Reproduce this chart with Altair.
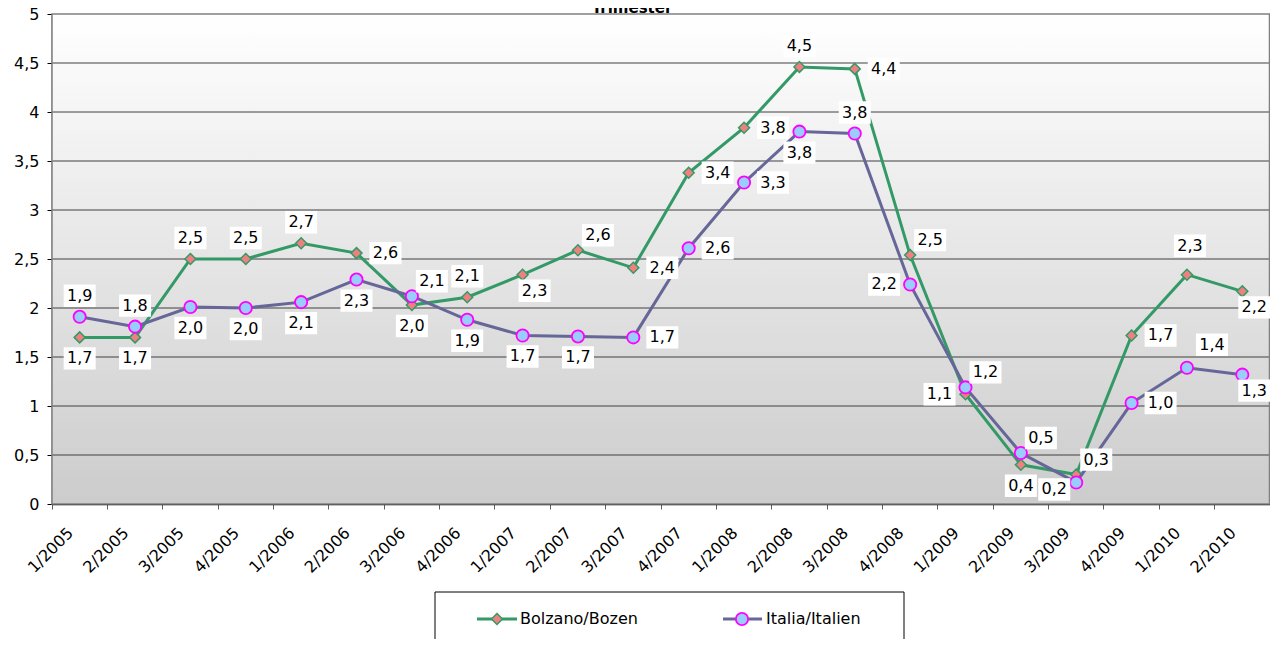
import altair as alt
import pandas as pd

quarters = ["1/2005", "2/2005", "3/2005", "4/2005", "1/2006", "2/2006", "3/2006", "4/2006",
            "1/2007", "2/2007", "3/2007", "4/2007", "1/2008", "2/2008", "3/2008", "4/2008",
            "1/2009", "2/2009", "3/2009", "4/2009", "1/2010", "2/2010"]
bolzano = [1.70, 1.70, 2.50, 2.50, 2.66, 2.56, 2.03, 2.11, 2.34, 2.59, 2.41, 3.38,
           3.84, 4.46, 4.44, 2.54, 1.12, 0.40, 0.30, 1.72, 2.34, 2.17]
italia = [1.91, 1.81, 2.01, 2.00, 2.06, 2.29, 2.12, 1.88, 1.72, 1.71, 1.70, 2.61,
          3.28, 3.80, 3.78, 2.24, 1.19, 0.52, 0.22, 1.03, 1.39, 1.32]
series_names = ["Bolzano/Bozen", "Italia/Italien"]
y_ticks = [0, 0.5, 1, 1.5, 2, 2.5, 3, 3.5, 4, 4.5, 5]
title_text = "Trimester"

# label placement codes (style)
bolzano_label_pos = ["b", "b", "a", "a", "a", "r", "b", "a", "br", "ar", "r", "r",
                     "r", "a", "r", "ar", "l", "b", "ar", "r", "A", "br"]
italia_label_pos = ["a", "a", "b", "b", "b", "b", "ar", "b", "b", "b", "r", "r",
                    "r", "b", "a", "l", "ar", "ar", "bl", "r", "aR", "br"]
offsets = {"a": (0, -21), "A": (3, -29), "b": (0, 21), "r": (29, 0), "l": (-26, 0),
           "ar": (20, -15), "aR": (25, -23), "br": (12, 16), "bl": (-22, 7)}

W, H = 1218, 490
FONT = "DejaVu Sans"
FS = 16
C_B_LINE, C_B_FILL = "#339966", "#f08080"
C_I_LINE, C_I_FILL, C_I_STROKE = "#666699", "#99ccff", "#ff00ff"

df = pd.DataFrame({
    "quarter": quarters * 2,
    "value": bolzano + italia,
    "series": [series_names[0]] * len(quarters) + [series_names[1]] * len(quarters),
    "pos": bolzano_label_pos + italia_label_pos,
})

x_scale = alt.Scale(type="band", domain=quarters, paddingInner=0, paddingOuter=0)
y_scale = alt.Scale(domain=[0, 5], nice=False, zero=True)

x_axis = alt.Axis(title=None, bandPosition=0, labelOffset=-9, labelAngle=-45,
                  labelAlign="right", labelBaseline="middle", labelPadding=21,
                  labelFontSize=FS, labelFont=FONT, labelColor="#000000",
                  tickSize=5, tickColor="#606060", domainColor="#000000",
                  domainWidth=1.5, grid=False, labelOverlap=False)
y_axis = alt.Axis(title=None, values=y_ticks,
                  labelExpr="replace(format(datum.value, '~g'), '.', ',')",
                  labelFontSize=FS, labelFont=FONT, labelColor="#000000", labelPadding=8,
                  tickSize=5, tickColor="#000000", domainColor="#000000",
                  domainWidth=1.5, grid=False)

one = alt.Data(values=[{}])

bg = alt.Chart(one).mark_rect(
    color=alt.Gradient(gradient="linear", x1=0, y1=0, x2=0, y2=1,
                       stops=[alt.GradientStop(color="#ffffff", offset=0),
                              alt.GradientStop(color="#cccccc", offset=1)])
).encode(x=alt.value(0), x2=alt.value(W), y=alt.value(0), y2=alt.value(H))

grid = alt.Chart(pd.DataFrame({"t": y_ticks[1:-1]})).mark_rule(
    color="#404040", strokeWidth=1
).encode(y=alt.Y("t:Q", scale=y_scale, axis=y_axis))

border = alt.Chart(one).mark_rect(
    fill=None, stroke="#808080", strokeWidth=1.5
).encode(x=alt.value(0), x2=alt.value(W - 0.5), y=alt.value(0), y2=alt.value(H))

base = alt.Chart(df)
bz = base.transform_filter(alt.datum.series == series_names[0])
it = base.transform_filter(alt.datum.series == series_names[1])

enc = dict(x=alt.X("quarter:O", scale=x_scale, axis=x_axis, sort=quarters),
           y=alt.Y("value:Q", scale=y_scale, axis=y_axis))

b_line = bz.mark_line(color=C_B_LINE, strokeWidth=3).encode(**enc)
b_pts = bz.mark_point(shape="diamond", filled=True, fill=C_B_FILL, stroke=C_B_LINE,
                      strokeWidth=1.5, size=120, opacity=1).encode(**enc)
i_line = it.mark_line(color=C_I_LINE, strokeWidth=3).encode(**enc)
i_pts = it.mark_point(shape="circle", filled=True, fill=C_I_FILL, stroke=C_I_STROKE,
                      strokeWidth=1.8, size=150, opacity=1).encode(**enc)

labels = []
lab = base.transform_calculate(lbl="replace(format(datum.value, '.1f'), '.', ',')")
for code, (dx, dy) in offsets.items():
    sub = lab.transform_filter(alt.datum.pos == code)
    labels.append(sub.mark_point(shape="M-1,-0.7L1,-0.7L1,0.7L-1,0.7Z", size=1024,
                                 filled=True, fill="#ffffff", stroke=None, opacity=1,
                                 xOffset=dx, yOffset=dy).encode(**enc))
    labels.append(sub.mark_text(font=FONT, fontSize=FS, color="#000000",
                                align="center", baseline="middle", dx=dx, dy=dy)
                  .encode(text="lbl:N", **enc))

title = alt.Chart(alt.Data(values=[{"t": title_text}])).mark_text(
    font=FONT, fontSize=15, fontWeight="bold", color="#000000",
    align="center", baseline="alphabetic"
).encode(text="t:N", x=alt.value(580), y=alt.value(-1))

LY = 605
leg_box = alt.Chart(one).mark_rect(fill="#ffffff", stroke="#000000", strokeWidth=1).encode(
    x=alt.value(383), x2=alt.value(852), y=alt.value(578), y2=alt.value(700))
leg_b_line = alt.Chart(one).mark_rule(color=C_B_LINE, strokeWidth=3).encode(
    x=alt.value(425), x2=alt.value(465), y=alt.value(LY))
leg_b_pt = alt.Chart(one).mark_point(shape="diamond", filled=True, fill=C_B_FILL,
                                     stroke=C_B_LINE, strokeWidth=1.5, size=120, opacity=1).encode(
    x=alt.value(445), y=alt.value(LY))
leg_b_txt = alt.Chart(alt.Data(values=[{"s": series_names[0]}])).mark_text(
    font=FONT, fontSize=FS, align="left", baseline="middle", color="#000000").encode(
    text="s:N", x=alt.value(468), y=alt.value(LY))
leg_i_line = alt.Chart(one).mark_rule(color=C_I_LINE, strokeWidth=3).encode(
    x=alt.value(671), x2=alt.value(710), y=alt.value(LY))
leg_i_pt = alt.Chart(one).mark_point(shape="circle", filled=True, fill=C_I_FILL,
                                     stroke=C_I_STROKE, strokeWidth=1.8, size=150, opacity=1).encode(
    x=alt.value(690), y=alt.value(LY))
leg_i_txt = alt.Chart(alt.Data(values=[{"s": series_names[1]}])).mark_text(
    font=FONT, fontSize=FS, align="left", baseline="middle", color="#000000").encode(
    text="s:N", x=alt.value(714), y=alt.value(LY))

chart = alt.layer(
    bg, grid, border, b_line, b_pts, i_line, i_pts, *labels, title,
    leg_box, leg_b_line, leg_b_pt, leg_b_txt, leg_i_line, leg_i_pt, leg_i_txt
).properties(
    width=W, height=H,
    autosize=alt.AutoSizeParams(type="none"),
    padding={"left": 44, "top": 6, "right": 0, "bottom": 135},
).configure_view(stroke=None).configure(background="#ffffff")

chart.save("out.html", embed_options={"renderer": "svg", "actions": False})
